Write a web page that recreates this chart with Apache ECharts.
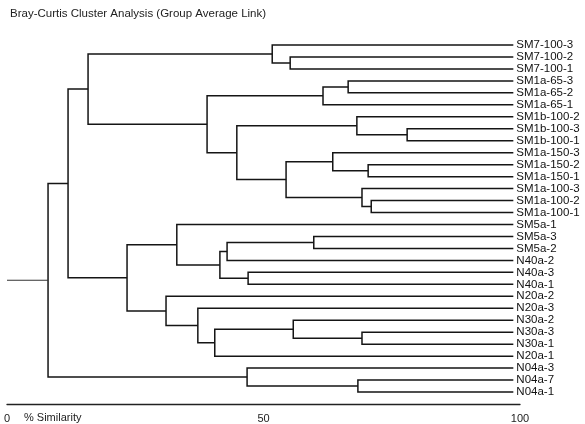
<!DOCTYPE html>
<html>
<head>
<meta charset="utf-8">
<script src="https://cdn.jsdelivr.net/npm/echarts@6/dist/echarts.min.js"></script>
<style>
html,body{margin:0;padding:0;background:#fff;}
#chart{width:585px;height:424px;}
</style>
</head>
<body>
<div id="chart"></div>
<script>
const chartTitle = "Bray-Curtis Cluster Analysis (Group Average Link)";
const axisName = "% Similarity";
const xTicks = [0, 50, 100];
const leafLevel = 98.7;

const leaves = [
  "SM7-100-3","SM7-100-2","SM7-100-1",
  "SM1a-65-3","SM1a-65-2","SM1a-65-1",
  "SM1b-100-2","SM1b-100-3","SM1b-100-1",
  "SM1a-150-3","SM1a-150-2","SM1a-150-1",
  "SM1a-100-3","SM1a-100-2","SM1a-100-1",
  "SM5a-1","SM5a-3","SM5a-2",
  "N40a-2","N40a-3","N40a-1",
  "N20a-2","N20a-3","N30a-2","N30a-3","N30a-1","N20a-1",
  "N04a-3","N04a-7","N04a-1"
];

// [node id, child A, child B, % similarity at merge]
const merges = [
  ["sm7a","SM7-100-2","SM7-100-1",55.2],
  ["sm7","SM7-100-3","sm7a",51.7],
  ["s65a","SM1a-65-3","SM1a-65-2",66.5],
  ["s65","s65a","SM1a-65-1",61.6],
  ["s1ba","SM1b-100-3","SM1b-100-1",78.0],
  ["s1b","SM1b-100-2","s1ba",68.2],
  ["s150a","SM1a-150-2","SM1a-150-1",70.4],
  ["s150","SM1a-150-3","s150a",63.5],
  ["s100a","SM1a-100-2","SM1a-100-1",71.0],
  ["s100","SM1a-100-3","s100a",69.2],
  ["s150100","s150","s100",54.4],
  ["s1brest","s1b","s150100",44.8],
  ["sm1","s65","s1brest",39.0],
  ["A","sm7","sm1",15.8],
  ["s5a","SM5a-3","SM5a-2",59.8],
  ["s5b","s5a","N40a-2",42.9],
  ["n40a","N40a-3","N40a-1",47.0],
  ["s5c","s5b","n40a",41.5],
  ["s5","SM5a-1","s5c",33.1],
  ["n30a","N30a-3","N30a-1",69.2],
  ["n30","N30a-2","n30a",55.8],
  ["n30b","n30","N20a-1",40.5],
  ["n20b","N20a-3","n30b",37.2],
  ["n20","N20a-2","n20b",31.0],
  ["mid","s5","n20",23.4],
  ["B","A","mid",11.9],
  ["n04a","N04a-7","N04a-1",68.4],
  ["n04","N04a-3","n04a",46.8],
  ["root","B","n04",8.0]
];

// Build node positions from the data
const pos = {};
leaves.forEach((name, i) => { pos[name] = { x: leafLevel, y: i }; });
const segments = [];
merges.forEach(([id, a, b, sim]) => {
  const pa = pos[a], pb = pos[b];
  pos[id] = { x: sim, y: (pa.y + pb.y) / 2 };
  segments.push([pa.x, pa.y, sim, pb.y, pb.x]);
});
const rootNode = pos[merges[merges.length - 1][0]];
const stem = [[0, rootNode.y, rootNode.x, rootNode.y]];
const leafData = leaves.map((name, i) => [leafLevel, i, name]);

const FONT = 'Liberation Sans, Arial, sans-serif';
const lineStyle = { stroke: '#151515', lineWidth: 1.5, fill: null };

const chart = echarts.init(document.getElementById('chart'), null, { renderer: 'canvas' });
chart.setOption({
  animation: false,
  backgroundColor: '#fff',
  title: {
    text: chartTitle,
    left: 5, top: 3,
    textStyle: { fontFamily: FONT, fontSize: 11.5, fontWeight: 'normal', color: '#222' }
  },
  graphic: [{
    type: 'text', left: 24, top: 412,
    style: { text: axisName, fontFamily: FONT, fontSize: 11, fill: '#222' }
  }],
  grid: { left: 7, right: 65, top: 33.03, bottom: 20 },
  xAxis: {
    type: 'value', min: 0, max: 100, interval: 50, position: 'bottom',
    axisLine: { show: true, onZero: false, lineStyle: { color: '#222', width: 1.3 } },
    axisTick: { show: false },
    splitLine: { show: false },
    axisLabel: {
      margin: 9, color: '#222', fontSize: 11, fontFamily: FONT,
      formatter: v => xTicks.includes(v) ? String(v) : ''
    }
  },
  yAxis: { type: 'value', min: -1, max: 30, inverse: true, show: false },
  series: [
    {
      type: 'custom', coordinateSystem: 'cartesian2d', silent: true, clip: false,
      data: segments,
      renderItem: (params, api) => {
        const p1 = api.coord([api.value(0), api.value(1)]);
        const p2 = api.coord([api.value(2), api.value(1)]);
        const p3 = api.coord([api.value(2), api.value(3)]);
        const p4 = api.coord([api.value(4), api.value(3)]);
        return { type: 'polyline', shape: { points: [p1, p2, p3, p4] }, style: lineStyle };
      }
    },
    {
      type: 'custom', coordinateSystem: 'cartesian2d', silent: true, clip: false,
      data: stem,
      renderItem: (params, api) => {
        const p1 = api.coord([api.value(0), api.value(1)]);
        const p2 = api.coord([api.value(2), api.value(3)]);
        return { type: 'line', shape: { x1: p1[0], y1: p1[1], x2: p2[0], y2: p2[1] }, style: { stroke: '#333', lineWidth: 1.2 } };
      }
    },
    {
      type: 'custom', coordinateSystem: 'cartesian2d', silent: true, clip: false,
      data: leafData,
      renderItem: (params, api) => {
        const p = api.coord([api.value(0), api.value(1)]);
        return {
          type: 'text', x: p[0] + 3, y: p[1],
          style: {
            text: leafData[params.dataIndex][2],
            fontFamily: FONT, fontSize: 11.5,
            fill: '#111', verticalAlign: 'middle', align: 'left'
          }
        };
      }
    }
  ]
});
</script>
</body>
</html>
